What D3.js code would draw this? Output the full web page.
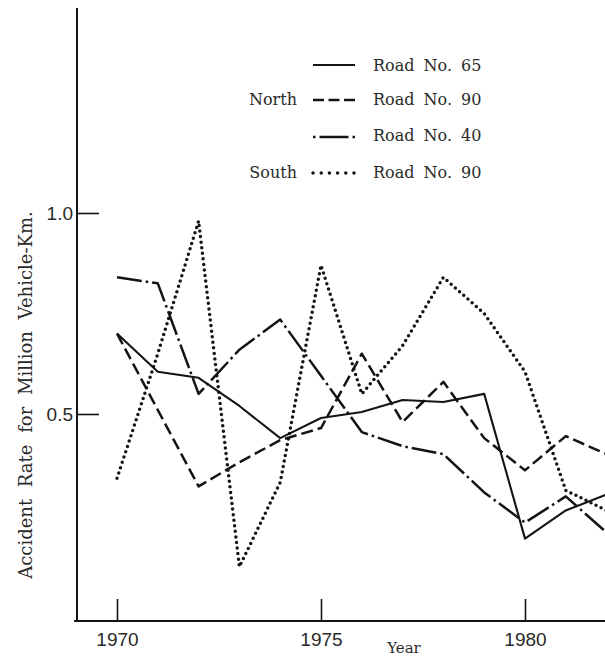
<!DOCTYPE html>
<html>
<head>
<meta charset="utf-8">
<script src="https://cdn.jsdelivr.net/npm/d3@7"></script>
<style>
  html, body { margin: 0; padding: 0; background: #fff; }
  svg { display: block; }
</style>
</head>
<body>
<svg id="chart" width="605" height="656"></svg>
<script>
// ---- data ----
const years = [1970, 1971, 1972, 1973, 1974, 1975, 1976, 1977, 1978, 1979, 1980, 1981, 1982];
const road65 = [0.70, 0.605, 0.59, 0.52, 0.44, 0.49, 0.505, 0.535, 0.53, 0.55, 0.19, 0.26, 0.30];
const north90 = [0.70, 0.51, 0.32, 0.38, 0.435, 0.465, 0.65, 0.48, 0.58, 0.44, 0.36, 0.445, 0.40];
const road40 = [0.84, 0.825, 0.55, 0.66, 0.735, 0.595, 0.455, 0.42, 0.40, 0.305, 0.23, 0.295, 0.205];
const south90 = [0.34, 0.65, 0.98, 0.12, 0.33, 0.87, 0.55, 0.67, 0.84, 0.75, 0.605, 0.31, 0.26];
const xTicks = [1970, 1975, 1980];
const yTicks = [0.5, 1.0];
const seriesNames = ["Road No. 65", "Road No. 90", "Road No. 40", "Road No. 90"];
const seriesGroups = ["", "North", "", "South"];

// ---- styles ----
const styles = [
  { dash: null, legendDash: null, width: 2.1, cap: "butt" },
  { dash: "12,5", legendDash: "11,4.5", width: 2.5, cap: "butt" },
  { dash: "25,4,2.5,4", legendDash: "2.5,4,29,4,2.5", width: 2.5, cap: "butt" },
  { dash: "0,5.6", legendDash: "0,8.2", width: 3.5, cap: "round" }
];
const seriesValues = [road65, north90, road40, south90];

const svg = d3.select("#chart");
const ink = "#141414";
const textInk = "#2a2a2a";

const x = d3.scaleLinear().domain([1970, 1980]).range([117, 525]);
const y = d3.scaleLinear().domain([0.5, 1.0]).range([414, 213]);

const axisX0 = 77, axisY0 = 621;

// axes lines
svg.append("line").attr("x1", axisX0).attr("x2", axisX0).attr("y1", 8).attr("y2", axisY0 + 1)
  .attr("stroke", ink).attr("stroke-width", 2);
svg.append("line").attr("x1", 74).attr("x2", 605).attr("y1", axisY0).attr("y2", axisY0)
  .attr("stroke", ink).attr("stroke-width", 2);

// y axis ticks
const gy = svg.append("g").attr("transform", `translate(${axisX0},0)`)
  .call(d3.axisLeft(y).tickValues(yTicks).tickSizeInner(-22).tickSizeOuter(0).tickPadding(4)
    .tickFormat(d3.format(".1f")));
gy.select(".domain").remove();
gy.selectAll(".tick line").attr("stroke", ink).attr("stroke-width", 1.6);
gy.selectAll(".tick text").attr("font-family", "Liberation Sans, Arial, sans-serif")
  .attr("font-size", 19).attr("fill", textInk);

// x axis ticks
const gx = svg.append("g").attr("transform", `translate(0,${axisY0})`)
  .call(d3.axisBottom(x).tickValues(xTicks).tickSizeInner(-22).tickSizeOuter(0).tickPadding(12)
    .tickFormat(d3.format("d")));
gx.select(".domain").remove();
gx.selectAll(".tick line").attr("stroke", ink).attr("stroke-width", 1.6);
gx.selectAll(".tick text").attr("font-family", "Liberation Sans, Arial, sans-serif")
  .attr("font-size", 19).attr("fill", textInk);

// axis titles
svg.append("text").attr("x", 404).attr("y", 653).attr("text-anchor", "middle")
  .attr("font-family", "DejaVu Serif, serif").attr("font-size", 15).attr("fill", textInk)
  .text("Year");
svg.append("text").attr("transform", "translate(32,395) rotate(-90)").attr("text-anchor", "middle")
  .attr("font-family", "DejaVu Serif, serif").attr("font-size", 18).attr("fill", textInk)
  .attr("word-spacing", 6)
  .text("Accident Rate for Million Vehicle-Km.");

// series lines
const line = d3.line().x((d, i) => x(years[i])).y(d => y(d));
seriesValues.forEach((vals, k) => {
  const st = styles[k];
  svg.append("path").datum(vals).attr("d", line)
    .attr("fill", "none").attr("stroke", ink).attr("stroke-width", st.width)
    .attr("stroke-linecap", st.cap).attr("stroke-linejoin", "round")
    .attr("stroke-dasharray", st.dash);
});

// legend
const legRows = [65, 100, 137, 173];
const legText = [71, 105, 141, 178];
seriesNames.forEach((name, k) => {
  const st = styles[k];
  svg.append("line").attr("x1", 313).attr("x2", 355).attr("y1", legRows[k]).attr("y2", legRows[k])
    .attr("stroke", ink).attr("stroke-width", st.width).attr("stroke-linecap", st.cap)
    .attr("stroke-dasharray", st.legendDash);
  svg.append("text").attr("x", 373).attr("y", legText[k])
    .attr("font-family", "DejaVu Serif, serif").attr("font-size", 16).attr("fill", textInk)
    .attr("word-spacing", 4).text(name);
  if (seriesGroups[k]) {
    svg.append("text").attr("x", 297).attr("y", legText[k]).attr("text-anchor", "end")
      .attr("font-family", "DejaVu Serif, serif").attr("font-size", 16).attr("fill", textInk)
      .text(seriesGroups[k]);
  }
});
</script>
</body>
</html>
